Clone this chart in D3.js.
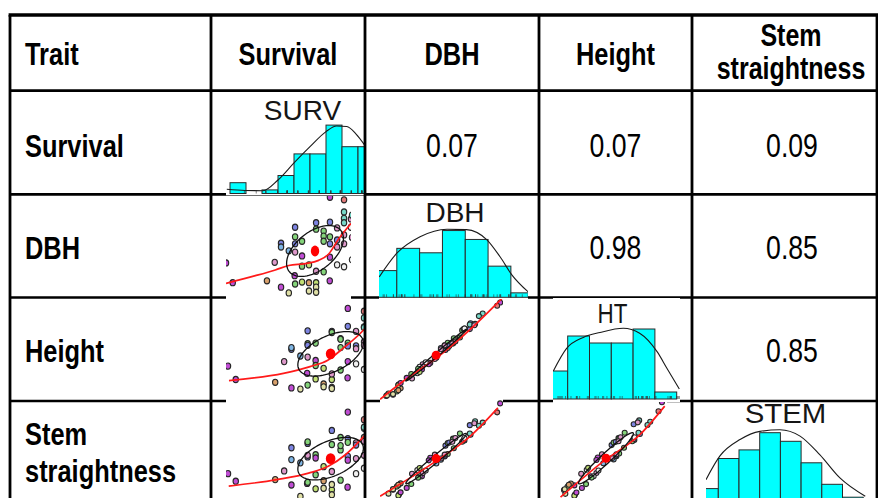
<!DOCTYPE html>
<html>
<head>
<meta charset="utf-8">
<script src="https://cdn.jsdelivr.net/npm/d3@7"></script>
<style>
body { margin: 0; background: #fff; }
svg { display: block; }
</style>
</head>
<body>
<div id="mainDiv"></div>
<script>
'use strict';

// ---------- data ----------
var traitNames = ['Survival', 'DBH', 'Height', 'Stem straightness'];
var histNames  = ['SURV', 'DBH', 'HT', 'STEM'];

// upper triangle of the table (row trait, column trait, r)
var corrRows   = [0, 0, 0, 1, 1, 2];
var corrCols   = [1, 2, 3, 2, 3, 3];
var corrValues = [0.07, 0.07, 0.09, 0.98, 0.85, 0.85];

// family means
var surv = [40.0, 43.2, 59.5, 63.2, 66.2, 66.2, 66.2, 69.9, 69.9, 72.9,
            72.9, 72.9, 72.9, 72.7, 72.9, 76.2, 76.2, 76.2, 79.5, 79.5,
            82.9, 82.9, 82.9, 82.9, 82.9, 82.9, 86.5, 86.5, 86.5, 86.5,
            89.5, 89.5, 89.5, 89.5, 89.4, 89.5, 92.9, 92.9, 92.9, 92.9,
            96.2, 96.2, 96.2, 96.2, 96.2, 96.2, 96.2, 99.5, 99.5, 76.2,
            79.5, 100, 100, 100];
var dbh  = [13.5, 10.4, 10.7, 13.6, 16.6, 16.0, 9.7, 8.8, 15.4, 19.1,
            17.6, 16.5, 15.2, 11.5, 10.2, 16.9, 14.6, 10.5, 10.4, 9.1,
            10.4, 9.7, 8.9, 19.8, 18.8, 12.2, 18.5, 17.7, 16.9, 12.1,
            19.9, 17.6, 16.5, 14.4, 10.7, 23.8, 19.0, 17.1, 16.0, 13.2,
            23.4, 21.5, 20.5, 19.8, 17.9, 16.5, 12.9, 20.4, 19.1, 13.0,
            13.2, 21.0, 17.5, 14.0];
var ht   = [13.2, 10.8, 10.3, 14.0, 16.2, 16.5, 9.3, 9.1, 15.0, 19.5,
            17.2, 16.9, 14.8, 11.9, 9.8, 17.3, 14.2, 10.9, 10.0, 9.5,
            10.8, 9.4, 9.2, 19.4, 19.2, 11.8, 18.1, 18.0, 16.5, 12.5,
            20.3, 17.3, 16.8, 14.0, 11.1, 23.5, 19.4, 16.8, 16.3, 13.6,
            23.0, 21.8, 20.2, 20.1, 17.5, 16.9, 12.6, 20.0, 19.5, 13.3,
            12.8, 21.4, 17.2, 14.3];
var stem = [12.6, 11.2, 11.5, 13.1, 17.4, 15.2, 10.5, 8.4, 14.6, 18.2,
            18.5, 15.7, 16.0, 10.8, 11.0, 16.1, 15.5, 9.8, 11.3, 9.9,
            9.6, 10.6, 8.7, 20.6, 18.0, 13.0, 19.3, 17.0, 17.8, 11.4,
            19.1, 18.4, 15.8, 15.1, 10.1, 24.0, 18.3, 17.9, 15.4, 12.6,
            22.6, 21.0, 21.2, 19.3, 18.6, 16.0, 13.6, 20.9, 18.6, 12.4,
            13.9, 20.5, 18.0, 13.5];
var family = [0, 0, 4, 3, 1, 10, 0, 5, 10, 1,
              2, 1, 3, 0, 2, 2, 0, 9, 4, 5,
              9, 5, 5, 1, 2, 3, 2, 2, 2, 2,
              1, 2, 1, 0, 0, 0, 3, 1, 3, 8,
              7, 6, 6, 6, 3, 3, 8, 3, 8, 2,
              9, 6, 3, 8];

// histograms (bin breaks, counts) and density curves (value, count)
var survBreaks = [55, 60, 65, 70, 75, 80, 85, 90, 95, 100];
var survCounts = [3, 0, 1, 5, 11, 11, 19, 13, 13];
var survDensity = [[54, 1.17], [59.7, 0.83], [65.3, 0.78], [70, 3.75], [75, 8.5], [80, 13.0],
                   [85, 17.2], [88.3, 18.75], [91.5, 18.6], [94.4, 16.5], [97.2, 13.3]];

var dbhBreaks = [8, 10, 12, 14, 16, 18, 20, 22];
var dbhCounts = [6, 11, 10, 15, 13, 7, 1];
var dbhDensity = [[8.46, 4.6], [10.0, 9.9], [12.04, 13.6], [14.4, 15.3], [16.1, 15.2],
                  [17.9, 12.9], [19.05, 9.1], [20.1, 5.0], [21.5, 1.26]];

var htBreaks = [8, 10, 12, 14, 16, 18, 20, 22];
var htCounts = [4, 9, 8, 8, 10, 1, 0];
var htDensity = [[8.68, 4.0], [9.9, 7.24], [11.43, 8.8], [12.96, 9.5], [15.1, 10.1],
                 [16.6, 9.4], [18.2, 6.76], [19.1, 4.4], [20.24, 1.43]];

var stemBreaks = [6, 8, 10, 12, 14, 16, 18, 20, 22];
var stemCounts = [3, 10, 12, 16, 14, 9, 4, 1];
var stemDensity = [[6.81, 5.07], [8.16, 10.6], [10.1, 14.4], [12.03, 16.3], [13.96, 16.7],
                   [15.9, 15.2], [17.8, 10.9], [19.75, 5.47], [22.2, 1.2]];

// loess smooths (x value, y value)
var loessSurvDbh  = [[40, 10.3], [54, 11.5], [63.5, 12.4], [69.9, 13.1], [77.8, 13.4],
                     [84.1, 13.9], [88.9, 14.9], [93.7, 17.3], [99.5, 19.7]];
var loessSurvHt   = [[40.4, 10.6], [62.9, 11.9], [73.9, 13.1], [81.4, 14.3], [87.6, 16.4], [95.9, 19.6], [99, 21.2]];
var loessSurvStem = [[40.3, 10.3], [60.2, 11.5], [73.3, 12.7], [81.6, 14.0], [88.5, 16.1], [96.1, 19.5], [99, 21.0]];
var loessDbhHt    = [[8.0, 8.6], [11.3, 11.6], [15.0, 14.6], [19.8, 19.3], [24.0, 24.1]];
var loessDbhStem  = [[8.0, 9.5], [15.0, 14.7], [19.8, 18.8], [23.5, 23.3]];
var loessHtStem   = [[8.8, 9.4], [15.0, 14.9], [20.3, 19.0], [23.9, 23.4]];

var familyColours = ['#c04cd4', '#7d84e2', '#84d47a', '#de98ca', '#d8a06c', '#e0e0a6',
                     '#78d8c8', '#e27a7a', '#f1f1f1', '#c2e074', '#7eb4e2'];

// ---------- app ----------
var myApp = {};

myApp.W = 878;
myApp.H = 498;
myApp.colX = [10, 211, 365, 539, 692, 877];
myApp.rowY = [15, 90.7, 194.3, 297.5, 401];
myApp.colMid = [0, 288, 452, 615.5, 792];
myApp.rowBase = [65, 157, 259, 362];
myApp.narrow = 0.82;

myApp.traitData = [surv, dbh, ht, stem];
myApp.histData = [
    {breaks: survBreaks, counts: survCounts, density: survDensity},
    {breaks: dbhBreaks,  counts: dbhCounts,  density: dbhDensity},
    {breaks: htBreaks,   counts: htCounts,   density: htDensity},
    {breaks: stemBreaks, counts: stemCounts, density: stemDensity}
];

// the image crops pasted into the table: box, and the value window of each crop
myApp.histPanels = [
    {v: 0, box: [226, 96, 365, 195.5], xd: [55, 100], xr: [230, 374],   yd: [0, 20], yr: [193.5, 121.5], label: [302.5, 120], sx: 1},
    {v: 1, box: [379, 197, 528, 299],  xd: [8, 22],   xr: [374, 533.7], yd: [0, 20], yr: [297.3, 208.3], label: [455, 221.7], sx: 1},
    {v: 2, box: [553, 298, 680, 402],  xd: [8, 22],   xr: [545.9, 698.5], yd: [0, 12], yr: [399, 315],   label: [612.5, 323], sx: 0.8},
    {v: 3, box: [706, 403, 866, 498],  xd: [6, 22],   xr: [697.6, 863.2], yd: [0, 20], yr: [501.5, 415.5], label: [785.5, 423], sx: 1.05}
];

myApp.scatterPanels = [
    {xv: 0, yv: 1, fit: loessSurvDbh,  box: [226, 196, 351, 299],   xd: [40, 99.52], xr: [226, 351], yd: [8, 24],  yr: [298, 196],   pr: [2.7, 3.1], dot: [4.2, 5.4]},
    {xv: 0, yv: 2, fit: loessSurvHt,   box: [226, 299, 364, 401.5], xd: [40, 96.6],  xr: [228, 365], yd: [15, 25], yr: [356, 300],   pr: [2.7, 3.1], dot: [4.8, 5.4]},
    {xv: 0, yv: 3, fit: loessSurvStem, box: [226, 400, 365, 498],   xd: [40, 96.6],  xr: [228, 365], yd: [15, 25], yr: [460.7, 406.7], pr: [2.7, 3.1], dot: [4.8, 5.4]},
    {xv: 1, yv: 2, fit: loessDbhHt,    box: [380, 299, 503, 400],   xd: [15, 25], xr: [433.3, 509.3], yd: [15, 25], yr: [357.7, 292.7], pr: [2.5, 2.5], dot: [4.5, 4.5]},
    {xv: 1, yv: 3, fit: loessDbhStem,  box: [380, 400, 503, 498],   xd: [15, 25], xr: [433.3, 509.3], yd: [15, 25], yr: [461, 397],     pr: [2.5, 2.5], dot: [4.5, 4.5]},
    {xv: 2, yv: 3, fit: loessHtStem,   box: [553, 402, 667, 498],   xd: [15, 25], xr: [603.3, 672.3], yd: [15, 25], yr: [460.7, 395.7], pr: [2.5, 2.5], dot: [4.5, 4.5]}
];

myApp.pearson = function(a, b)
{
    var ma = d3.mean(a), mb = d3.mean(b);
    var sab = 0, saa = 0, sbb = 0;
    for(var i=0; i<a.length; i++)
    {
        sab += (a[i]-ma)*(b[i]-mb);
        saa += (a[i]-ma)*(a[i]-ma);
        sbb += (b[i]-mb)*(b[i]-mb);
    }
    return sab/Math.sqrt(saa*sbb);
}

myApp.clipBox = function(svg, id, box)
{
    svg.select('defs').append('clipPath').attr('id', id)
        .append('rect')
        .attr('x', box[0]).attr('y', box[1])
        .attr('width', box[2]-box[0]).attr('height', box[3]-box[1]);
}

myApp.drawHist = function(svg, p, i)
{
    var h = myApp.histData[p.v];
    var x = d3.scaleLinear().domain(p.xd).range(p.xr);
    var y = d3.scaleLinear().domain(p.yd).range(p.yr);

    myApp.clipBox(svg, 'hclip'+i, p.box);
    var g = svg.append('g').attr('clip-path', 'url(#hclip'+i+')');

    g.append('rect')
        .attr('x', p.box[0]).attr('y', p.box[1])
        .attr('width', p.box[2]-p.box[0]).attr('height', p.box[3]-p.box[1])
        .attr('fill', '#fff');

    var bins = h.counts.map(function(c, k){ return {x0: h.breaks[k], x1: h.breaks[k+1], n: c}; })
        .filter(function(d){ return d.n > 0; });

    g.selectAll('rect.bar')
        .data(bins)
        .enter()
        .append('rect')
        .attr('class', 'bar')
        .attr('x', function(d){ return x(d.x0); })
        .attr('y', function(d){ return y(d.n); })
        .attr('width', function(d){ return x(d.x1) - x(d.x0); })
        .attr('height', function(d){ return y(0) - y(d.n); })
        .attr('fill', '#00ffff')
        .attr('stroke', '#2a2a2a')
        .attr('stroke-width', 1);

    // rug
    g.selectAll('line.rug')
        .data(myApp.traitData[p.v])
        .enter()
        .append('line')
        .attr('x1', function(d){ return x(d); })
        .attr('x2', function(d){ return x(d); })
        .attr('y1', y(0) - 3)
        .attr('y2', y(0))
        .attr('stroke', '#333')
        .attr('stroke-width', 0.6);

    var line = d3.line()
        .x(function(d){ return x(d[0]); })
        .y(function(d){ return y(d[1]); })
        .curve(d3.curveMonotoneX);

    g.append('path')
        .attr('d', line(h.density))
        .attr('fill', 'none')
        .attr('stroke', '#1a1a1a')
        .attr('stroke-width', 1.1);

    g.append('text')
        .attr('transform', 'translate(' + p.label[0] + ',' + p.label[1] + ') scale(' + p.sx + ',1)')
        .attr('text-anchor', 'middle')
        .attr('font-family', '"Liberation Sans", Arial, sans-serif')
        .attr('font-size', 28)
        .attr('fill', '#151515')
        .text(histNames[p.v]);
}

myApp.drawScatter = function(svg, p, i)
{
    var xs = myApp.traitData[p.xv];
    var ys = myApp.traitData[p.yv];
    var x = d3.scaleLinear().domain(p.xd).range(p.xr);
    var y = d3.scaleLinear().domain(p.yd).range(p.yr);

    myApp.clipBox(svg, 'sclip'+i, p.box);
    var g = svg.append('g').attr('clip-path', 'url(#sclip'+i+')');

    g.append('rect')
        .attr('x', p.box[0]).attr('y', p.box[1])
        .attr('width', p.box[2]-p.box[0]).attr('height', p.box[3]-p.box[1])
        .attr('fill', '#fff');

    var pts = xs.map(function(v, k){ return {x: v, y: ys[k], f: family[k]}; });

    g.selectAll('ellipse.pt')
        .data(pts)
        .enter()
        .append('ellipse')
        .attr('class', 'pt')
        .attr('cx', function(d){ return x(d.x); })
        .attr('cy', function(d){ return y(d.y); })
        .attr('rx', p.pr[0])
        .attr('ry', p.pr[1])
        .attr('fill', function(d){ return familyColours[d.f]; })
        .attr('stroke', '#262626')
        .attr('stroke-width', 1.1);

    var line = d3.line()
        .x(function(d){ return x(d[0]); })
        .y(function(d){ return y(d[1]); })
        .curve(d3.curveMonotoneX);

    g.append('path')
        .attr('d', line(p.fit))
        .attr('fill', 'none')
        .attr('stroke', '#ff1a1a')
        .attr('stroke-width', 1.7);

    // correlation ellipse (1 sd), as in psych::pairs.panels
    var mx = d3.mean(xs), my = d3.mean(ys);
    var sdx = d3.deviation(xs), sdy = d3.deviation(ys);
    var r = myApp.pearson(xs, ys);
    var th = (r < 0 ? -1 : 1)/Math.SQRT2;
    var a = Math.sqrt(1 + r), b = Math.sqrt(1 - r);
    var ell = d3.range(0, 101).map(function(k)
    {
        var t = k/100*2*Math.PI;
        var ex = Math.cos(t)*a*th - Math.sin(t)*b*th;
        var ey = Math.cos(t)*a*th + Math.sin(t)*b*th;
        return [mx + ex*sdx, my + ey*sdy];
    });

    g.append('path')
        .attr('d', d3.line().x(function(d){ return x(d[0]); }).y(function(d){ return y(d[1]); })(ell))
        .attr('fill', 'none')
        .attr('stroke', '#111')
        .attr('stroke-width', 1.3);

    g.append('ellipse')
        .attr('cx', x(mx))
        .attr('cy', y(my))
        .attr('rx', p.dot[0])
        .attr('ry', p.dot[1])
        .attr('fill', '#ff0000');
}

myApp.addText = function(svg, txt, x, y, anchor, bold, size)
{
    return svg.append('text')
        .attr('class', 'cell')
        .attr('data-x', x)
        .attr('data-y', y)
        .attr('transform', 'translate(' + x + ',' + y + ')')
        .attr('text-anchor', anchor)
        .attr('font-family', '"Liberation Sans Narrow", "Liberation Sans", Arial, sans-serif')
        .attr('font-weight', bold ? 'bold' : 'normal')
        .attr('font-size', size)
        .attr('fill', '#000')
        .text(txt);
}

// without a narrow face installed, condense the table text horizontally
myApp.squeezeIfNoNarrow = function(svg)
{
    var t1 = svg.append('text').attr('font-family', '"Liberation Sans Narrow", "Liberation Sans"').attr('font-size', 100).text('Survival');
    var t2 = svg.append('text').attr('font-family', '"Liberation Sans"').attr('font-size', 100).text('Survival');
    var ratio = t1.node().getComputedTextLength()/t2.node().getComputedTextLength();
    t1.remove();
    t2.remove();
    if(ratio < 0.95) return;

    svg.selectAll('text.cell').each(function()
    {
        var s = d3.select(this);
        s.attr('transform', 'translate(' + s.attr('data-x') + ',' + s.attr('data-y') + ') scale(' + myApp.narrow + ',1)');
    });
}

myApp.run = function()
{
    var svg = d3.select('#mainDiv').append('svg')
        .attr('width', myApp.W)
        .attr('height', myApp.H)
        .attr('viewBox', '0 0 ' + myApp.W + ' ' + myApp.H);
    svg.append('defs');

    // horizontal rules (the pasted images sit over them)
    svg.selectAll('line.hrule')
        .data(myApp.rowY.slice(1))
        .enter()
        .append('line')
        .attr('x1', myApp.colX[0]).attr('x2', myApp.W)
        .attr('y1', function(d){ return d; }).attr('y2', function(d){ return d; })
        .attr('stroke', '#000')
        .attr('stroke-width', 2.7);

    myApp.histPanels.forEach(function(p, i){ myApp.drawHist(svg, p, i); });
    myApp.scatterPanels.forEach(function(p, i){ myApp.drawScatter(svg, p, i); });

    // vertical rules and top border
    svg.selectAll('line.vrule')
        .data(myApp.colX)
        .enter()
        .append('line')
        .attr('x1', function(d){ return d; }).attr('x2', function(d){ return d; })
        .attr('y1', myApp.rowY[0]).attr('y2', myApp.H)
        .attr('stroke', '#000')
        .attr('stroke-width', 2.8);

    svg.append('line')
        .attr('x1', myApp.colX[0] - 1.4).attr('x2', myApp.W)
        .attr('y1', myApp.rowY[0]).attr('y2', myApp.rowY[0])
        .attr('stroke', '#000')
        .attr('stroke-width', 3.6);

    // header row
    myApp.addText(svg, 'Trait', 25, myApp.rowBase[0], 'start', true, 31);
    myApp.addText(svg, traitNames[0], myApp.colMid[1], myApp.rowBase[0], 'middle', true, 31);
    myApp.addText(svg, traitNames[1], myApp.colMid[2], myApp.rowBase[0], 'middle', true, 31);
    myApp.addText(svg, traitNames[2], myApp.colMid[3], myApp.rowBase[0], 'middle', true, 31);
    myApp.addText(svg, 'Stem', myApp.colMid[4] - 1, 46, 'middle', true, 30.5);
    myApp.addText(svg, 'straightness', myApp.colMid[4] - 1, 79, 'middle', true, 30.5);

    // row labels
    myApp.addText(svg, traitNames[0], 25, myApp.rowBase[1], 'start', true, 31);
    myApp.addText(svg, traitNames[1], 25, myApp.rowBase[2], 'start', true, 31);
    myApp.addText(svg, traitNames[2], 25, myApp.rowBase[3], 'start', true, 31);
    myApp.addText(svg, 'Stem', 25, 445, 'start', true, 31);
    myApp.addText(svg, 'straightness', 25, 482, 'start', true, 31);

    // correlations
    var fmt = d3.format('.2f');
    corrValues.forEach(function(v, k)
    {
        myApp.addText(svg, fmt(v), myApp.colMid[corrCols[k] + 1], myApp.rowBase[corrRows[k] + 1], 'middle', false, 32.5);
    });

    myApp.squeezeIfNoNarrow(svg);
}

window.myApp = myApp;
window.onload = myApp.run;
</script>
</body>
</html>
